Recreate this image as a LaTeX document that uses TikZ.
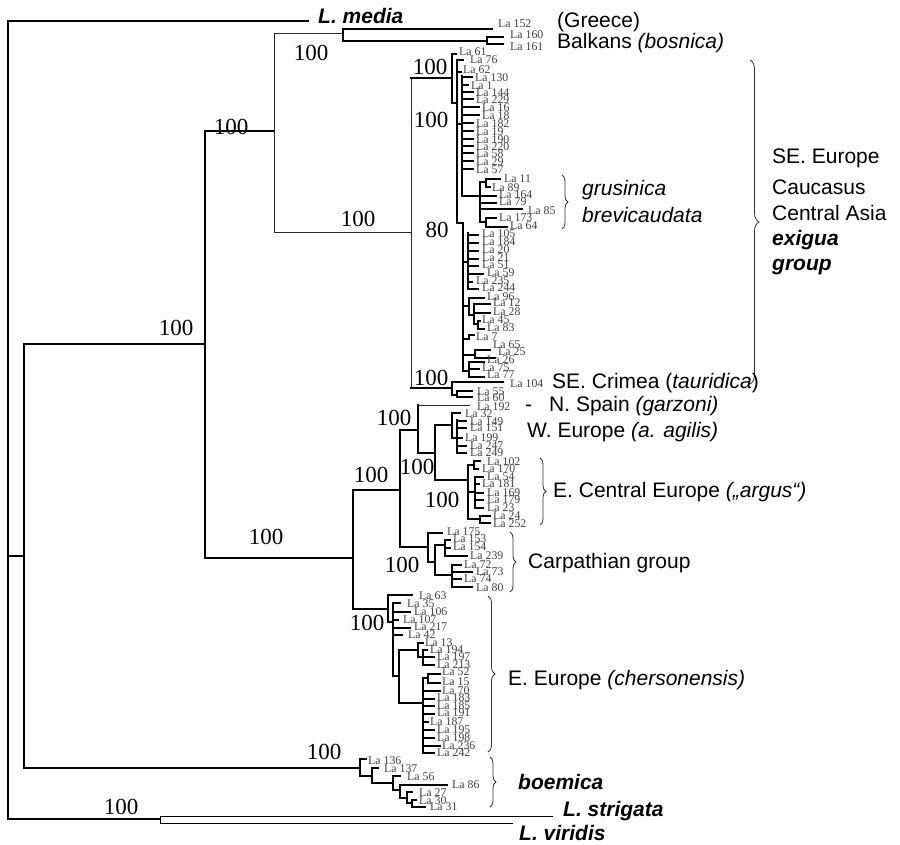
\documentclass[tikz,border=0pt]{standalone}
\usepackage{fontspec}
\setmainfont{Liberation Serif}
\newfontfamily\arialf{Liberation Sans}
\usetikzlibrary{decorations.pathreplacing}
\begin{document}
\begin{tikzpicture}[x=1pt,y=-1pt,
  br/.style={line width=1.3pt,line cap=rect},
  bthin/.style={line width=0.8pt,black!85,line cap=rect},
  bk/.style={line width=1.6pt,line cap=rect},
  leaf/.style={font=\fontsize{11.8}{11.8}\selectfont,text=black!75,inner sep=0pt,anchor=west},
  bs/.style={font=\fontsize{23}{23}\selectfont,inner sep=0pt},
  lab/.style={font=\arialf\fontsize{21}{21}\selectfont,inner sep=0pt,anchor=west},
  labi/.style={font=\arialf\itshape\fontsize{21}{21}\selectfont,inner sep=0pt,anchor=west},
  lbi/.style={font=\arialf\bfseries\itshape\fontsize{21}{21}\selectfont,inner sep=0pt,anchor=west},
  brc/.style={decorate,decoration={brace,amplitude=#1},line width=0.8pt,black!80},
  brc/.default=6pt]
\useasboundingbox (0,0) rectangle (900,845);

% ---------- backbone ----------
\draw[br] (308,21) -- (8,21) -- (8,819) -- (160,819);
\draw[br] (8,556) -- (24,556);
\draw[br] (205,344) -- (24,344) -- (24,768) -- (360,768);
\draw[br] (274,131) -- (205,131) -- (205,558) -- (353,558);

% ---------- Balkans / Greece ----------
\draw[bthin] (343,33) -- (274,33) -- (274,232) -- (411,232);
\draw[br] (492,29) -- (343,29) -- (343,41) -- (487,41);
\draw[br] (503,37) -- (487,37) -- (487,44) -- (503,44);

% ---------- exigua group ----------
\draw[bthin] (411,78) -- (411,388);
\draw[bk] (411,78) -- (452,78);
\draw[bk] (411,388) -- (452,388);
\draw[bk] (456,54) -- (452,54) -- (452,103) -- (457,103);
\draw[bk] (463,60) -- (457,60) -- (457,223) -- (463,223) -- (463,371);
\draw[bk] (457,72) -- (461,72);
\draw[bk] (457,124) -- (462,124);
\draw[bk] (462,76) -- (462,196) -- (480,196);
\foreach \n/\x/\y in {130/475/78,1/471/86,144/476/93,229/476/100,16/482/108,18/482/116,182/476/124,19/476/132,190/476/140,220/476/147,58/476/154,29/476/162,57/476/170}{
  \draw[bk] (462,\y-1) -- (\x-3,\y-1);
  \node[leaf] (L\n) at (\x,\y) {La \n};
}
% grusinica / brevicaudata
\draw[bk] (480,182) -- (480,222);
\draw[bk] (480,182) -- (486,182);
\draw[bk] (500,179) -- (486,179) -- (486,187) -- (490,187);
\draw[bk] (480,196) -- (496,196);
\draw[bk] (480,203) -- (496,203);
\draw[bk] (480,209) -- (522,209);
\draw[bk] (480,222) -- (486,222);
\draw[bk] (496,218) -- (486,218) -- (486,227) -- (507,227);
% lower comb
\draw[bk] (463,262) -- (468,262);
\draw[bk] (468,233) -- (468,289);
\foreach \n/\x/\y in {105/482/234,184/482/242,20/482/250,21/482/258,51/482/265,59/487/273,235/476/281,244/482/288}{
  \draw[bk] (468,\y+1) -- (\x-4,\y+1);
  \node[leaf] (L\n) at (\x,\y) {La \n};
}
\draw[bk] (463,306) -- (469,306);
\draw[bk] (484,298) -- (469,298) -- (469,315) -- (474,315);
\draw[bk] (490,304) -- (474,304) -- (474,324) -- (478,324);
\draw[bk] (474,313) -- (490,313);
\draw[bk] (480,321) -- (478,321) -- (478,329) -- (484,329);
\draw[bk] (463,339) -- (469,339) -- (469,335) -- (474,335);
\draw[bk] (463,355) -- (475,355);
\draw[bk] (490,350) -- (475,350) -- (475,358) -- (495,358);
\draw[bk] (463,371) -- (469,371);
\draw[bk] (484,362) -- (469,362) -- (469,377) -- (484,377);
\draw[bk] (469,369) -- (479,369);
% SE Crimea
\draw[bk] (503,382) -- (452,382) -- (452,395) -- (457,395);
\draw[bk] (472,391) -- (457,391) -- (457,397) -- (472,397);

% ---------- western / central clades ----------
\draw[br] (353,490) -- (353,609) -- (388,609);
\draw[br] (353,490) -- (400,490);
\draw[br] (418,430) -- (400,430) -- (400,547) -- (428,547);
\draw[br] (418,405) -- (418,453) -- (435,453);
\draw[bthin] (418,405) -- (470,405);
\draw[br] (452,425) -- (435,425) -- (435,480) -- (468,480);
\draw[br] (460,413) -- (452,413) -- (452,438) -- (457,438);
\draw[br] (457,420) -- (457,453);
\foreach \y/\xe in {421/466,428/466,438/462,446/466,453/466}{\draw[br] (457,\y) -- (\xe,\y);}
% E Central Europe
\draw[br] (468,465) -- (468,519);
\draw[br] (468,465) -- (474,465);
\draw[br] (480,461) -- (474,461) -- (474,469) -- (478,469);
\draw[br] (468,492) -- (475,492);
\draw[br] (475,477) -- (475,508);
\foreach \y/\xe in {477/483,484/479,493/483,500/483,508/483}{\draw[br] (475,\y) -- (\xe,\y);}
\draw[br] (468,519) -- (480,519);
\draw[br] (490,516) -- (480,516) -- (480,523) -- (490,523);
% Carpathian
\draw[br] (442,533) -- (428,533) -- (428,562) -- (435,562);
\draw[br] (445,545) -- (435,545) -- (435,575) -- (452,575);
\draw[br] (450,540) -- (445,540) -- (445,556) -- (467,556);
\draw[br] (445,548) -- (450,548);
\draw[br] (461,565) -- (452,565) -- (452,587) -- (472,587);
\draw[br] (452,572) -- (472,572);
\draw[br] (452,579) -- (461,579);
% E Europe
\draw[br] (412,595) -- (388,595) -- (388,622) -- (393,622);
\draw[br] (393,603) -- (393,676) -- (399,676);
\foreach \y/\xe in {603/400,612/410,620/398,628/410,635/402}{\draw[br] (393,\y) -- (\xe,\y);}
\draw[br] (418,650) -- (399,650) -- (399,703) -- (423,703);
\draw[br] (423,643) -- (418,643) -- (418,657) -- (423,657);
\draw[br] (423,650) -- (423,665);
\foreach \y/\xe in {650/427,657/434,665/434}{\draw[br] (423,\y) -- (\xe,\y);}
\draw[br] (423,678) -- (423,753);
\draw[br] (423,678) -- (428,678);
\draw[br] (440,674) -- (428,674) -- (428,683) -- (440,683);
\foreach \y/\xe in {691/440,699/434,706/434,714/434,722/428,730/434,738/434,746/440,753/434}{\draw[br] (423,\y) -- (\xe,\y);}
% boemica
\draw[br] (366,759) -- (360,759) -- (360,776) -- (372,776);
\draw[br] (378,768) -- (372,768) -- (372,783) -- (393,783);
\draw[br] (400,776) -- (393,776) -- (393,790) -- (400,790);
\draw[br] (447,785) -- (400,785) -- (400,798) -- (407,798);
\draw[br] (412,792) -- (407,792) -- (407,803) -- (412,803);
\draw[br] (416,800) -- (412,800) -- (412,807) -- (425,807);
% outgroups
\draw[line width=1pt] (553,816) -- (160,816) -- (160,823) -- (513,823);

% ---------- leaf labels ----------
\foreach \n/\x/\y in {152/498/24,160/510/35,161/510/47,61/459/52,76/470/60,62/463/70,
  11/504/179,89/492/188,164/499/195,79/499/202,85/528/211,173/499/218,64/510/226,
  96/487/297,12/493/303,28/493/312,45/482/320,83/487/328,7/476/337,65/493/345,25/498/352,
  26/487/360,75/482/368,77/487/375,104/510/384,55/477/392,60/477/398,192/477/407,
  32/465/414,149/470/422,151/470/428,199/465/438,247/470/446,249/470/453,
  102/487/462,170/482/469,54/487/477,181/482/484,169/487/493,179/487/500,23/487/508,24/493/516,252/493/524,
  175/447/532,153/453/539,154/453/547,239/470/556,72/464/565,73/476/572,74/464/579,80/476/588,
  63/419/596,35/407/604,106/414/612,107/403/620,217/414/627,42/408/635,13/425/643,194/430/650,
  197/437/657,213/437/665,52/442/672,15/442/682,70/442/691,183/437/698,185/437/706,191/437/713,
  187/430/722,195/437/730,198/437/738,236/442/746,242/437/753,
  136/368/761,137/384/769,56/407/777,86/452/785,27/419/793,30/419/801,31/430/807}{
  \node[leaf] (L\n) at (\x,\y) {La \n};
}

% ---------- bootstrap values ----------
\node[bs] (b1) at (311,53) {100};
\node[bs] (b2) at (430,67) {100};
\node[bs] (b3) at (431,120) {100};
\node[bs] (b4) at (437,230) {80};
\node[bs] (b5) at (358,219) {100};
\node[bs] (b6) at (431,378) {100};
\node[bs] (b7) at (394,418) {100};
\node[bs] (b8) at (417,467) {100};
\node[bs] (b9) at (371,475) {100};
\node[bs] (b10) at (442,500) {100};
\node[bs] (b11) at (402,565) {100};
\node[bs] (b12) at (266,537) {100};
\node[bs] (b13) at (367,623) {100};
\node[bs] (b14) at (324,752) {100};
\node[bs] (b15) at (176,328) {100};
\node[bs] (b16) at (231,127) {100};
\node[bs] (b17) at (121,807) {100};

% ---------- braces ----------
\draw[brc=6pt] (562,175) -- (562,229);
\draw[brc=9pt] (750,60) -- (750,384);
\draw[brc=6pt] (540,458) -- (540,525);
\draw[brc=6pt] (510,532) -- (510,592);
\draw[brc=7pt] (488,596) -- (488,752);
\draw[brc=6pt] (490,757) -- (490,807);

% ---------- group labels ----------
\node[lbi] (media) at (318,16) {L. media};
\node[lab] (greece) at (557,22) {(Greece)};
\node[lab] (balk) at (557,43) {Balkans \textit{(bosnica)}};
\node[labi] (grus) at (582,190) {grusinica};
\node[labi] (brev) at (582,215) {brevicaudata};
\node[lab] (se1) at (772,158) {SE. Europe};
\node[lab] (se2) at (772,187) {Caucasus};
\node[lab] (se3) at (772,213) {Central Asia};
\node[lbi] (se4) at (772,240) {exigua};
\node[lbi] (se5) at (772,267) {group};
\node[lab] (crimea) at (552,383) {SE. Crimea (\textit{tauridica})};
\node[lab] (spain) at (525,406) {-\hspace{17pt}N. Spain \textit{(garzoni)}};
\node[lab] (weur) at (527,432) {W. Europe \textit{(a. agilis)}};
\node[lab] (ecen) at (553,492) {E. Central Europe \textit{(„argus“)}};
\node[lab] (carp) at (528,563) {Carpathian group};
\node[lab] (eeur) at (508,680) {E. Europe \textit{(chersonensis)}};
\node[lbi] (boem) at (518,782) {boemica};
\node[lbi] (stri) at (563,811) {L. strigata};
\node[lbi] (viri) at (519,833) {L. viridis};
\end{tikzpicture}
\end{document}
